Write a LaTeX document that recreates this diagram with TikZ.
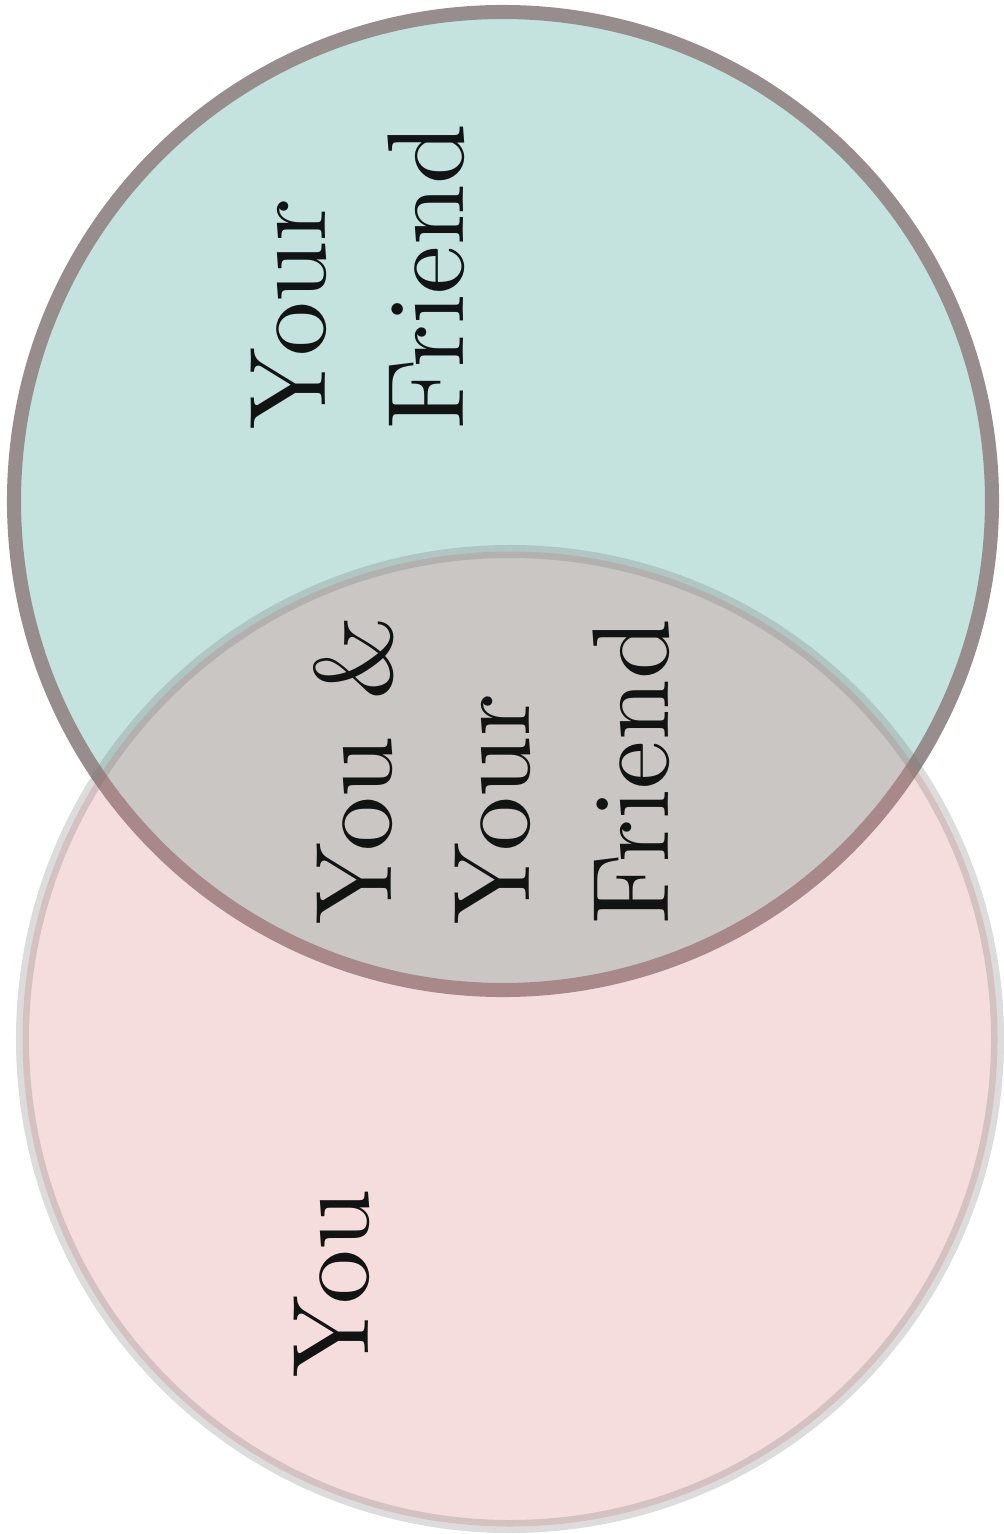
\documentclass[tikz,border=0pt]{standalone}
\usepackage{fontspec}
\usetikzlibrary{arrows.meta,positioning}
\newfontfamily\setfont{lmroman10-regular.otf}
\definecolor{FriendTeal}{HTML}{C4E2DE}
\definecolor{FriendRim}{HTML}{968D8C}
\definecolor{YouPink}{RGB}{217,124,128}
\definecolor{YouRim}{RGB}{116,116,116}
\definecolor{LabelInk}{HTML}{121414}

\tikzset{
  setlabel/.style={rotate=90, anchor=north west, inner sep=0pt, align=left,
    text=LabelInk, font=\setfont\fontsize{31}{39.3}\selectfont}
}

\begin{document}
\begin{tikzpicture}[x=0.01cm, y=-0.01cm, >=Latex]
  \useasboundingbox (0,0) rectangle (1003,1534);

  \begin{scope}
    \draw[FriendRim, fill=FriendTeal, line width=4pt] (503,501) circle[radius=489];
    \draw[YouRim, draw opacity=0.25, fill=YouPink, fill opacity=0.27, line width=3.7pt]
      (510,1039) circle[radius=487.5];
  \end{scope}

  \node[setlabel] (friend) at (250,430) {Your\\Friend};
  \node[setlabel] (both) at (313,925) {You \&\\Your\\Friend};
  \node[setlabel] (you) at (293,1378) {You};
\end{tikzpicture}
\end{document}
